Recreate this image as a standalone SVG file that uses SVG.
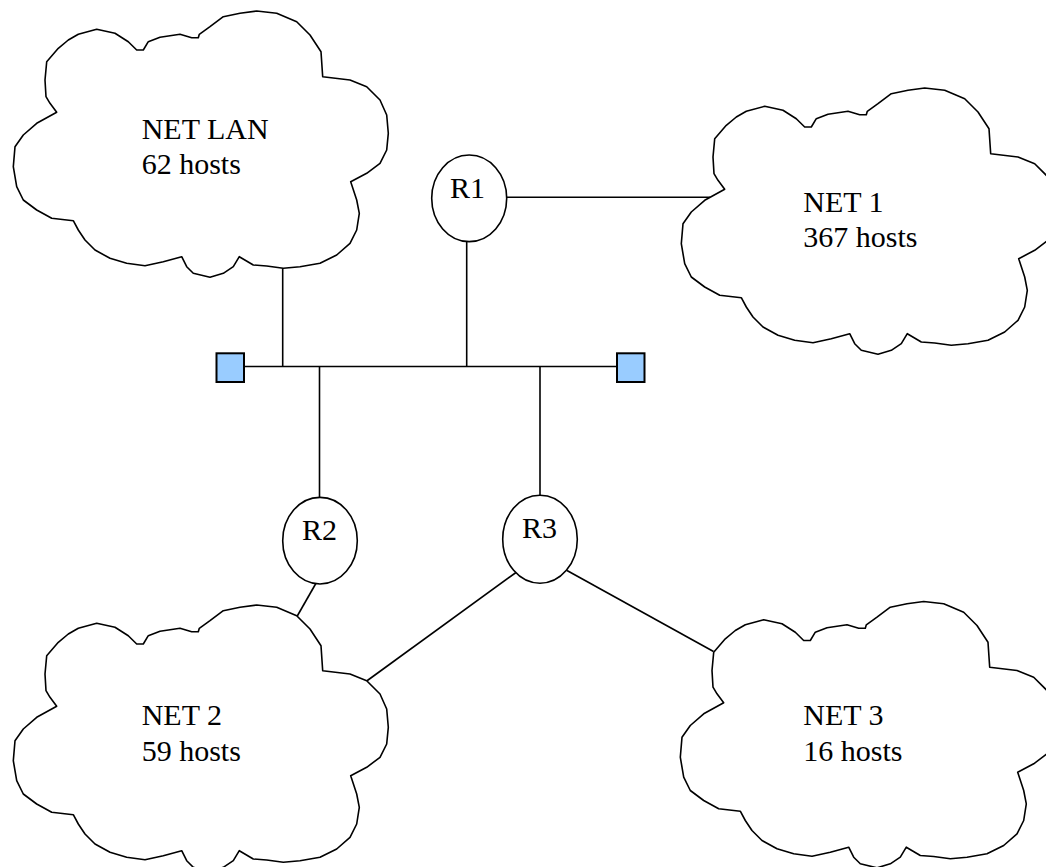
<svg xmlns="http://www.w3.org/2000/svg" xmlns:xlink="http://www.w3.org/1999/xlink" width="1046" height="867" viewBox="0 0 1046 867">
  <style>
    .cloud { fill: #ffffff; stroke: #000000; stroke-width: 1.6; stroke-linejoin: round; }
    .router { fill: #ffffff; stroke: #000000; stroke-width: 1.6; }
    .term { fill: #99ccff; stroke: #000000; stroke-width: 2; }
    .wire { stroke: #000000; stroke-width: 1.6; fill: none; }
    .lbl { font-family: "Liberation Serif", "Times New Roman", serif; font-size: 30px; fill: #000000; }
    .mid { text-anchor: middle; }
  </style>
  <defs>
    <!-- outline shared by all four network clouds -->
    <polygon id="cloudShape" class="cloud" points="56.7,112.3 50,103.3 46,96.7 45,80 46.7,61.7 58.3,48.3 68.3,40 78.3,34.3 96.7,29.3 115,33.3 128.3,41.7 136.7,50 143.3,50 148.3,41.7 160,37.3 180,34.3 191.7,37.7 198.3,37.7 199.3,34.3 210,26.7 223.3,16.7 240,13.3 256.7,11 276.7,13.3 296.7,21.7 310,35 321,51.7 322.7,76.7 350,80 366.7,86.7 380,100 386.7,115 388.3,133.3 386.7,150 380,163.3 366.7,173.3 350.7,181.7 356.7,200 359.3,213.3 356.7,230 350,243.3 336.7,255 320,263.3 300,266.7 283.3,268.3 266.7,266 253.3,265 239.3,256.7 233.3,266.7 223.3,273.3 210,277.3 193.3,273.3 186.7,266.7 181.7,256.7 163.3,261.7 145,265.7 126.7,263.3 110,258.3 95,250 85,240 78.3,230 73.3,220.7 51.7,218.3 36.7,210 23.3,200 16.7,186.7 13.3,166.7 15,146.7 23.3,135 36.7,123.3"/>
  </defs>

  <rect x="0" y="0" width="1046" height="867" fill="#ffffff"/>

  <!-- links -->
  <g id="connectors">
    <line class="wire" x1="230" y1="366.5" x2="631" y2="366.5"/>
    <line class="wire" x1="282.7" y1="266" x2="282.7" y2="366.5"/>
    <line class="wire" x1="466.7" y1="238" x2="466.7" y2="366.5"/>
    <line class="wire" x1="319.5" y1="366.5" x2="319.5" y2="500"/>
    <line class="wire" x1="540" y1="366.5" x2="540" y2="498"/>
    <line class="wire" x1="505" y1="197.3" x2="710" y2="197.3"/>
    <line class="wire" x1="316.7" y1="582" x2="296.7" y2="617"/>
    <line class="wire" x1="516" y1="572.5" x2="366.7" y2="681"/>
    <line class="wire" x1="567" y1="570.5" x2="713.5" y2="651.5"/>
  </g>

  <g id="net-lan">
    <use href="#cloudShape" xlink:href="#cloudShape"/>
    <text class="lbl" x="141.7" y="139">NET LAN</text>
    <text class="lbl" x="141.7" y="173.5">62 hosts</text>
  </g>

  <g id="net-1">
    <use href="#cloudShape" xlink:href="#cloudShape" transform="translate(668,77)"/>
    <text class="lbl" x="803.3" y="212">NET 1</text>
    <text class="lbl" x="803.3" y="246.7">367 hosts</text>
  </g>

  <g id="net-2">
    <use href="#cloudShape" xlink:href="#cloudShape" transform="translate(0,594)"/>
    <text class="lbl" x="141.7" y="725">NET 2</text>
    <text class="lbl" x="141.7" y="760.5">59 hosts</text>
  </g>

  <g id="net-3">
    <use href="#cloudShape" xlink:href="#cloudShape" transform="translate(667,590.5)"/>
    <text class="lbl" x="803.3" y="724.5">NET 3</text>
    <text class="lbl" x="803.3" y="760.5">16 hosts</text>
  </g>

  <g id="r1">
    <ellipse class="router" cx="469.2" cy="198.3" rx="37.5" ry="43.3"/>
    <text class="lbl mid" x="467.5" y="198.3">R1</text>
  </g>

  <g id="r2">
    <ellipse class="router" cx="320" cy="540.7" rx="37.3" ry="43.3"/>
    <text class="lbl mid" x="319.5" y="539.5">R2</text>
  </g>

  <g id="r3">
    <ellipse class="router" cx="540" cy="539.2" rx="37.3" ry="44"/>
    <text class="lbl mid" x="539.5" y="538.3">R3</text>
  </g>

  <g id="term-left">
    <rect class="term" x="216.5" y="353.3" width="27.5" height="28.7"/>
  </g>

  <g id="term-right">
    <rect class="term" x="617" y="353.3" width="27.5" height="28.7"/>
  </g>
</svg>
